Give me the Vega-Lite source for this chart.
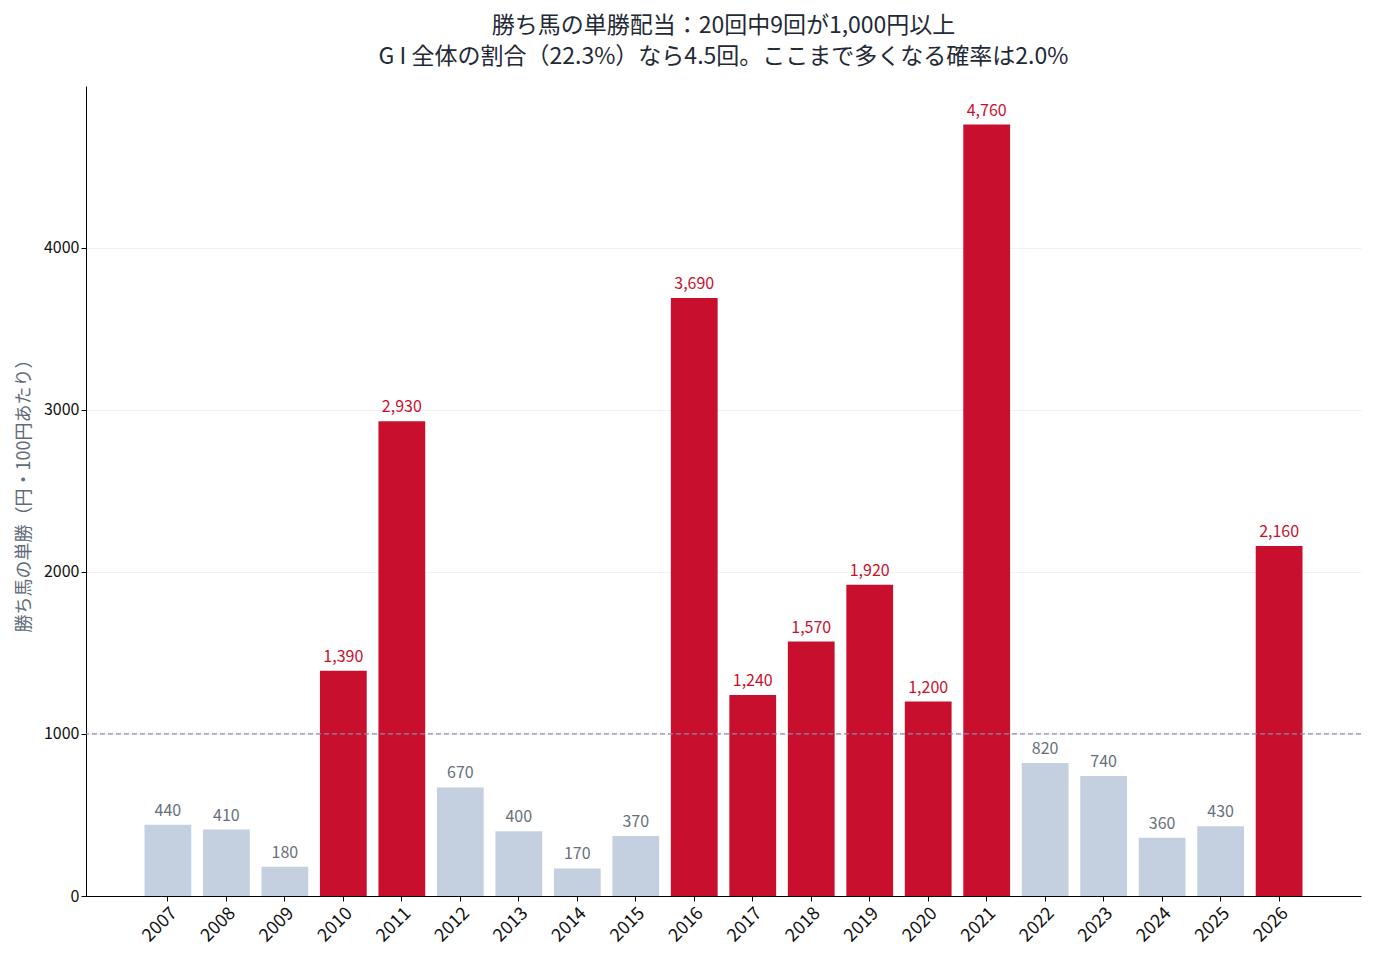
{
  "$schema": "https://vega.github.io/schema/vega-lite/v6.json",
  "width": 1275,
  "height": 810,
  "autosize": {"type": "none"},
  "padding": {"left": 86, "top": 86, "right": 15, "bottom": 64},
  "background": "white",
  "config": {
    "font": "Noto Sans CJK JP",
    "view": {"stroke": null},
    "axis": {"labelFont": "Noto Sans CJK JP", "titleFont": "Noto Sans CJK JP"}
  },
  "title": {
    "text": ["勝ち馬の単勝配当：20回中9回が1,000円以上", "G I 全体の割合（22.3%）なら4.5回。ここまで多くなる確率は2.0%"],
    "fontSize": 23,
    "fontWeight": "normal",
    "color": "#1f2a36",
    "lineHeight": 31,
    "anchor": "middle",
    "offset": 17
  },
  "datasets": {
    "wins": [
      {"year": "2007", "value": 440},
      {"year": "2008", "value": 410},
      {"year": "2009", "value": 180},
      {"year": "2010", "value": 1390},
      {"year": "2011", "value": 2930},
      {"year": "2012", "value": 670},
      {"year": "2013", "value": 400},
      {"year": "2014", "value": 170},
      {"year": "2015", "value": 370},
      {"year": "2016", "value": 3690},
      {"year": "2017", "value": 1240},
      {"year": "2018", "value": 1570},
      {"year": "2019", "value": 1920},
      {"year": "2020", "value": 1200},
      {"year": "2021", "value": 4760},
      {"year": "2022", "value": 820},
      {"year": "2023", "value": 740},
      {"year": "2024", "value": 360},
      {"year": "2025", "value": 430},
      {"year": "2026", "value": 2160}
    ]
  },
  "layer": [
    {
      "data": {"name": "wins"},
      "mark": {"type": "bar"},
      "encoding": {
        "x": {
          "field": "year", "type": "ordinal",
          "scale": {"paddingInner": 0.2, "paddingOuter": 1},
          "axis": {
            "title": null, "labelAngle": -45, "labelFontSize": 18, "labelColor": "#111",
            "domainColor": "#000", "tickColor": "#000", "tickSize": 5, "labelPadding": 3
          }
        },
        "y": {
          "field": "value", "type": "quantitative",
          "scale": {"domain": [0, 4998], "nice": false},
          "axis": {
            "title": "勝ち馬の単勝（円・100円あたり）",
            "titleColor": "#5f6b7a", "titleFontSize": 18, "titleFontWeight": "normal",
            "titlePadding": 10,
            "values": [0, 1000, 2000, 3000, 4000],
            "format": "d",
            "labelFontSize": 16, "labelColor": "#111",
            "domainColor": "#000", "tickColor": "#000", "tickSize": 5,
            "gridColor": "#eeeeee", "gridWidth": 0.8
          }
        },
        "color": {
          "condition": {"test": "datum.value >= 1000", "value": "#c8102e"},
          "value": "#c4d0e0"
        }
      }
    },
    {
      "data": {"values": [{"threshold": 1000}]},
      "mark": {"type": "rule", "strokeDash": [5, 3], "color": "#8a8aa6", "strokeWidth": 1.2},
      "encoding": {"y": {"field": "threshold", "type": "quantitative"}}
    },
    {
      "data": {"name": "wins"},
      "mark": {"type": "text", "dy": -6, "baseline": "bottom", "fontSize": 16},
      "encoding": {
        "x": {"field": "year", "type": "ordinal"},
        "y": {"field": "value", "type": "quantitative"},
        "text": {"field": "value", "type": "quantitative", "format": ","},
        "color": {
          "condition": {"test": "datum.value >= 1000", "value": "#c8102e"},
          "value": "#66707c"
        }
      }
    }
  ]
}
